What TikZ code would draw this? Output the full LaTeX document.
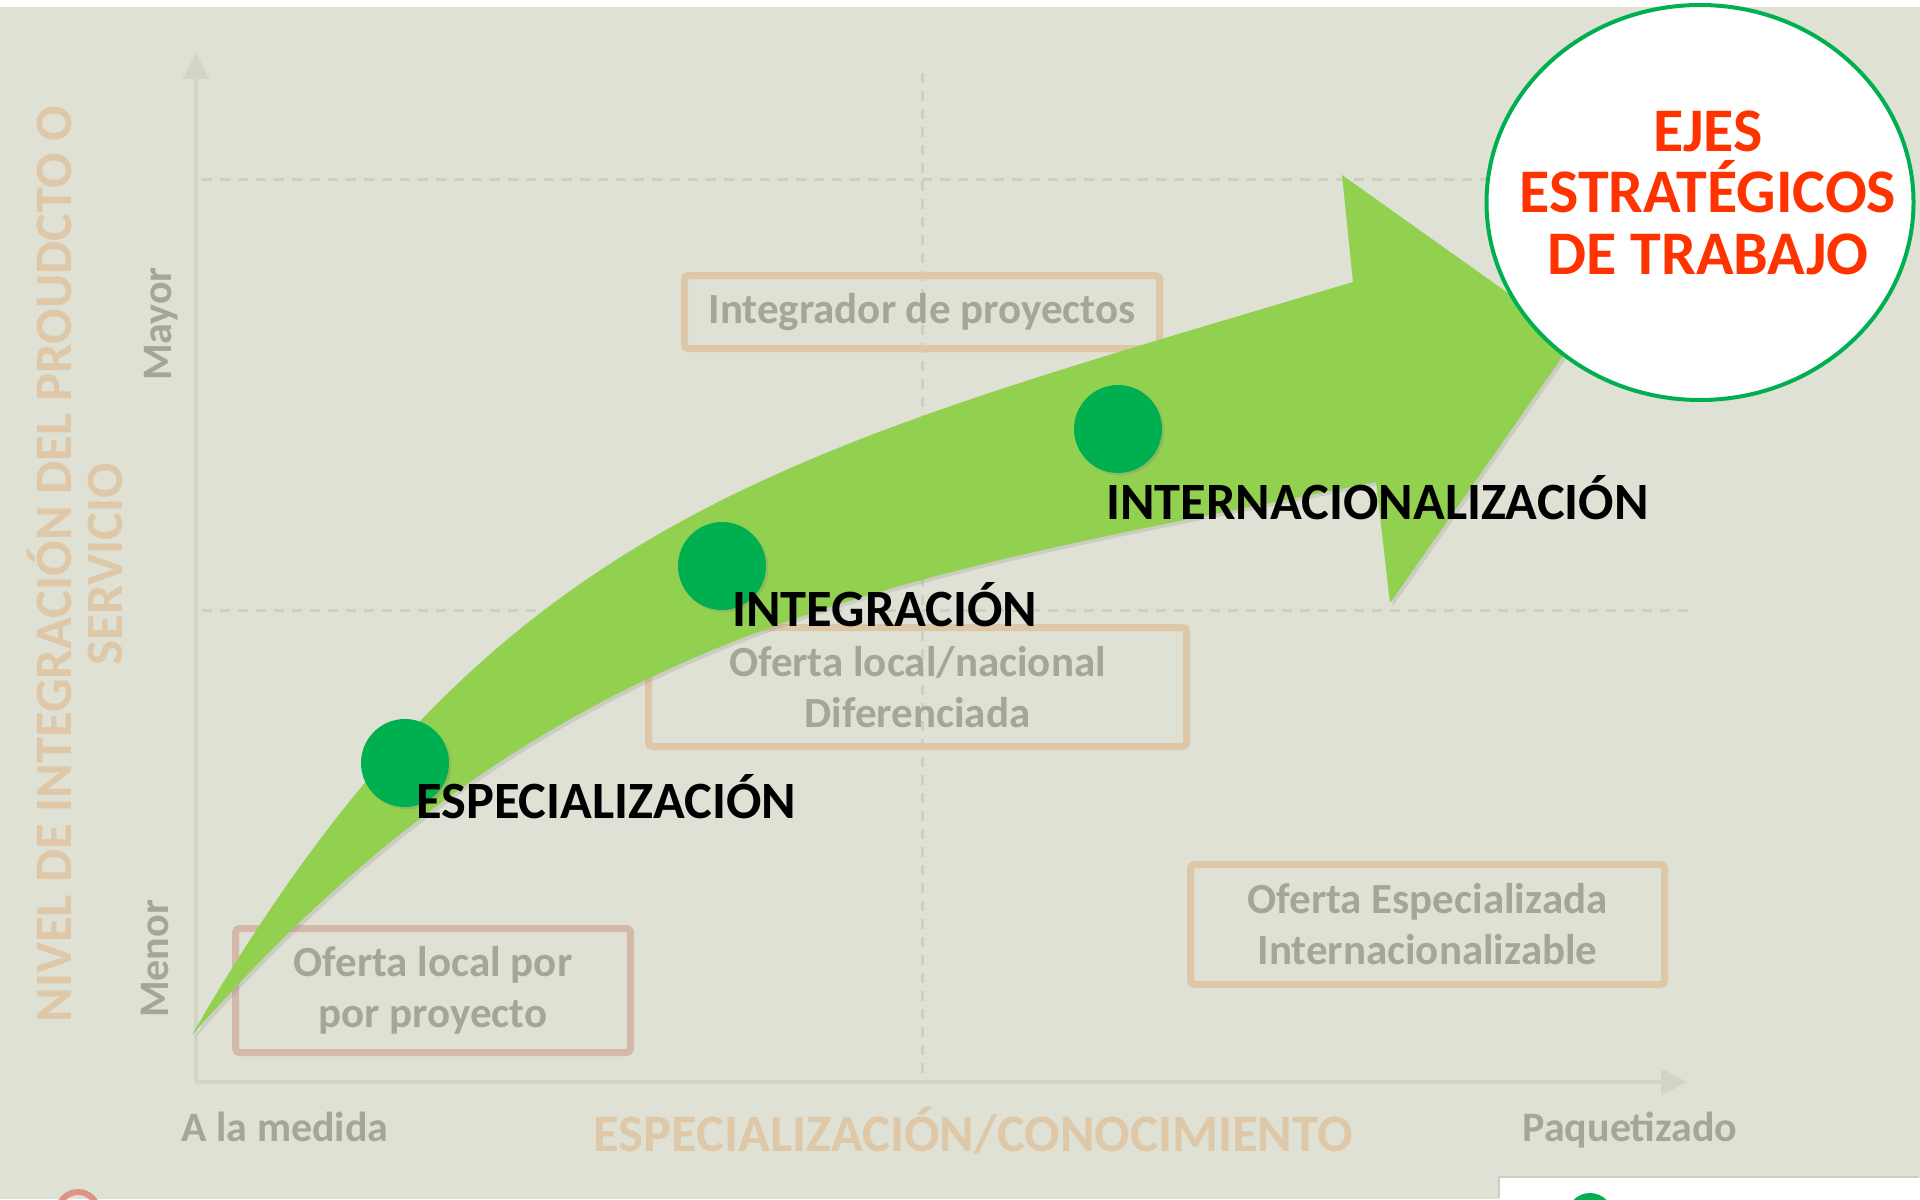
\documentclass[tikz,border=0pt]{standalone}
\usepackage{fontspec}
\setmainfont{Carlito}
\usetikzlibrary{arrows.meta, shapes.geometric, shadows}

\definecolor{fondo}{HTML}{DEE1D3}
\definecolor{ejegris}{HTML}{D1D5C6}
\definecolor{guia}{HTML}{CCD0C1}
\definecolor{textogris}{HTML}{A3A798}
\definecolor{textocrema}{HTML}{DEC8A8}
\definecolor{bordecrema}{HTML}{DDC7A6}
\definecolor{bordeteja}{HTML}{D4B9AA}
\definecolor{verdeflecha}{HTML}{92D050}
\definecolor{verdepunto}{HTML}{00B050}
\definecolor{rojoeje}{HTML}{FF3300}

\tikzstyle{caja}=[draw=bordecrema, line width=3.5pt, rounded corners=2pt, inner sep=0pt,
  text=textogris, font=\bfseries\fontsize{21.5}{25.5}\selectfont, align=center]
\tikzstyle{punto}=[circle, fill=verdepunto, minimum size=44pt, inner sep=0pt,
  drop shadow={opacity=.25, shadow xshift=1.2pt, shadow yshift=-1.2pt}]
\tikzstyle{etapa}=[font=\bfseries\fontsize{26.2}{28}\selectfont, anchor=base west, inner sep=0pt]
\tikzstyle{guialinea}=[draw=guia, line width=1.5pt, dash pattern=on 5pt off 4pt]
\tikzstyle{eje}=[draw=ejegris, line width=2.2pt, -{Triangle[length=13pt,width=13pt]}]
\tikzstyle{extremo}=[text=textogris, font=\bfseries\fontsize{21}{25}\selectfont, inner sep=0pt]
\tikzstyle{titulo}=[text=textocrema, font=\bfseries\fontsize{26.3}{25.5}\selectfont, inner sep=0pt, align=center]

\begin{document}
\begin{tikzpicture}[x=0.5pt, y=-0.5pt]
	\useasboundingbox (0,0) rectangle (1920,1199);
	% fondo
	\fill[white] (0,0) rectangle (1920,1199);
	\fill[fondo] (0,7) rectangle (1920,1199);

	% guias
	\draw[guialinea] (202,179) -- (1600,179);
	\draw[guialinea] (202,610) -- (1688,610);
	\draw[guialinea] (922,73) -- (922,1078);

	% ejes
	\coordinate (origen) at (196,1082);
	\coordinate (arriba) at (196,53);
	\coordinate (derecha) at (1687,1082);
	\draw[eje] (origen) -- (arriba);
	\draw[eje] (origen) -- (derecha);

	% cuadrantes
	\node[caja, minimum width=237.5pt, minimum height=36.5pt] (integrador) at (922,312) {Integrador de proyectos};
	\node[caja, minimum width=269pt, minimum height=59.5pt] (nacional) at (917.5,687) {Oferta local/nacional\\Diferenciada};
	\node[caja, draw=bordeteja, minimum width=197.5pt, minimum height=62pt] (local) at (433,990.5) {Oferta local por\\por proyecto};
	\node[caja, minimum width=237pt, minimum height=60pt] (especializada) at (1427.5,924.5) {Oferta Especializada\\Internacionalizable};

	% rotulos de ejes
	\node[extremo, rotate=90] (mayor) at (161,324) {Mayor};
	\node[extremo, rotate=90] (menor) at (155,959) {Menor};
	\node[extremo, anchor=base] (medida) at (285,1141) {A la medida};
	\node[extremo, anchor=base] (paquete) at (1630,1141) {Paquetizado};
	\node[titulo, rotate=90] (nivel) at (75,564) {NIVEL DE INTEGRACIÓN DEL PROUDCTO O\\SERVICIO};
	\node[titulo, anchor=base] (conocimiento) at (973,1151) {ESPECIALIZACIÓN/CONOCIMIENTO};

	% flecha
	\fill[verdeflecha, drop shadow={opacity=.2, shadow xshift=1.5pt, shadow yshift=-1.5pt}]
		(192,1035) .. controls (492,515) and (778,454) .. (1353,282)
		-- (1342,175) -- (1574,340) -- (1390,603) -- (1376,482)
		.. controls (886,580) and (555,622) .. (192,1035) -- cycle;

	% etapas
	\node[punto] (p1) at (405,763) {};
	\node[punto] (p2) at (722,566) {};
	\node[punto] (p3) at (1118,429) {};
	\node[etapa] (especializacion) at (416,818) {ESPECIALIZACIÓN};
	\node[etapa] (integracion) at (732,626) {INTEGRACIÓN};
	\node[etapa] (internacional) at (1106,519) {INTERNACIONALIZACIÓN};

	% ejes estrategicos
	\node[ellipse, draw=verdepunto, fill=white, line width=2pt, minimum width=213.5pt, minimum height=197.5pt] (ejes) at (1700,202.5) {};
	\node[text=rojoeje, font=\bfseries\fontsize{31}{30.75}\selectfont, align=center, inner sep=0pt] (ejestxt) at (1708,192.5) {EJES\\ESTRATÉGICOS\\DE TRABAJO};

	% restos del borde inferior
	\draw[draw=bordeteja!80!red, line width=3pt] (78,1212) circle[radius=20];
	\fill[white, drop shadow={opacity=.2, shadow xshift=-1pt, shadow yshift=1pt}] (1500,1178) rectangle (1920,1199);
	\fill[verdepunto] (1590,1216) circle[radius=23];
\end{tikzpicture}
\end{document}
